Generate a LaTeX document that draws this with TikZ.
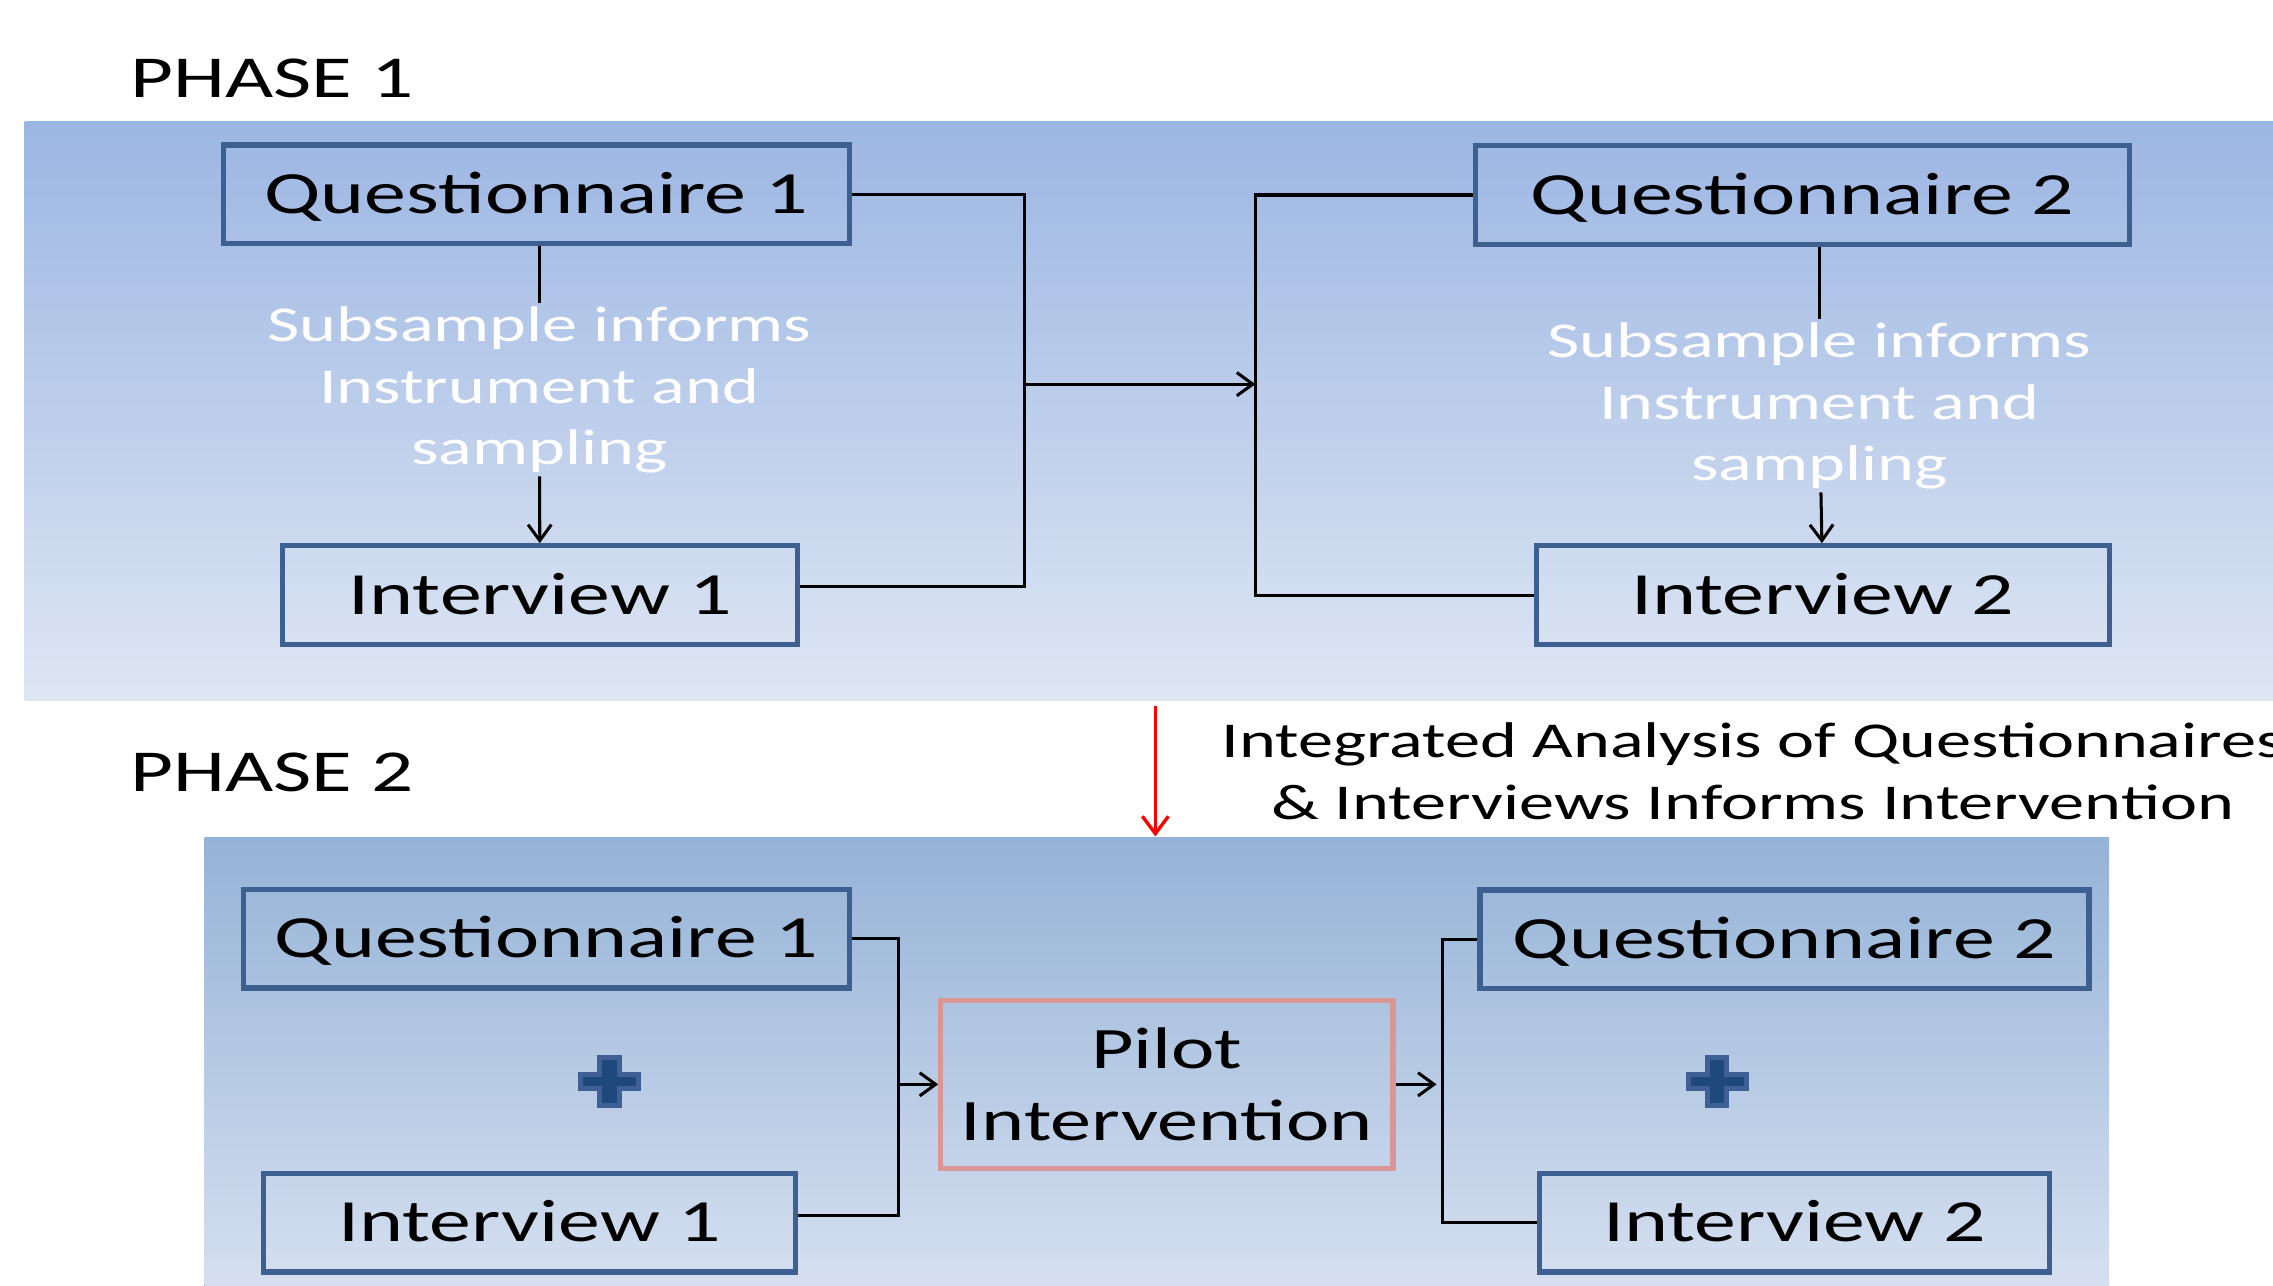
\documentclass[tikz,border=0pt]{standalone}
\usepackage{fontspec}
\setmainfont{Carlito}[FakeStretch=1.4]
\usepackage{xcolor}
\usepackage{tikz}
\usetikzlibrary{arrows.meta,positioning,calc}

\definecolor{boxline}{RGB}{62,96,145}
\definecolor{pilotline}{RGB}{217,150,148}
\definecolor{bandAtop}{RGB}{156,182,227}
\definecolor{bandAbot}{RGB}{222,230,243}
\definecolor{bandBtop}{RGB}{149,179,215}
\definecolor{bandBbot}{RGB}{216,225,241}
\definecolor{plusfill}{RGB}{31,73,125}
\definecolor{plusline}{RGB}{62,96,148}

\begin{document}
\begin{tikzpicture}[
  x=1pt, y=-1pt,
  every node/.style={font=\fontsize{41.3}{50}\selectfont},
  block/.style={rectangle, draw=boxline, line width=3.6pt, inner sep=0pt,
                minimum height=68pt, text height=26.5pt, text depth=0pt},
  pilot/.style={rectangle, draw=pilotline, line width=3.6pt, align=center,
                inner sep=0pt, minimum width=312pt, minimum height=116pt,
                font=\fontsize{40.5}{49}\selectfont},
  note/.style={align=center, text=white, inner sep=2pt,
               font=\fontsize{34.6}{42.5}\selectfont},
  title/.style={anchor=base west, inner sep=0pt,
                font=\fontsize{41}{48}\selectfont},
  link/.style={line width=2.1pt},
  arr/.style={link, -{Straight Barb[length=11pt,width=16pt]}},
  redarr/.style={line width=2.3pt, red, -{Straight Barb[length=12pt,width=18pt]}},
  plus/.style={fill=plusfill, draw=plusline, line width=3.5pt},
]
\useasboundingbox (0,0) rectangle (1568,887);

% backgrounds of the two phases
\fill[top color=bandAtop, bottom color=bandAbot] (17,84) rectangle (1568,483);
\fill[top color=bandBtop, bottom color=bandBbot] (141,578) rectangle (1455,900);

\node[title] (ph1) at (90,67)  {PHASE 1};
\node[title] (ph2) at (90,546) {PHASE 2};

% phase 1
\node[block, minimum width=432pt] (q1) at (370,134)     {Questionnaire 1};
\node[block, minimum width=355pt] (i1) at (372.5,410.5) {Interview 1};
\node[note] (n1) at (372,269) {Subsample informs\\Instrument and\\sampling};
\node[block, minimum width=451pt] (q2) at (1243.5,134.5) {Questionnaire 2};
\node[block, minimum width=395pt] (i2) at (1257.5,410.5) {Interview 2};
\node[note] (n2) at (1255,280) {Subsample informs\\Instrument and\\sampling};

\draw[link] (q1.south -| n1.north) -- (n1.north);
\draw[arr] (n1) -- (i1);
\draw[link] (q2.south -| n2.north) -- (n2.north);
\draw[arr] (n2) -- (i2);

\coordinate (join1)  at (707,265);
\coordinate (split1) at (866,265);
\draw[link] (q1.east) -| (join1);
\draw[link] ([yshift=6pt]i1.east) -| (join1);
\draw[arr] (join1) -- (split1);
\draw[link] (q2.west) -| (split1);
\draw[link] (i2.west) -| (split1);

% between the phases
\coordinate (redtop) at (797,487);
\coordinate (redbot) at (797,577);
\draw[redarr] (redtop) -- (redbot);
\node[note, text=black, inner sep=0pt] (intlabel) at (1209,532)
     {Integrated Analysis of Questionnaires\\\& Interviews Informs Intervention};

% phase 2
\node[block, minimum width=418pt] (q1b) at (377,647.5)  {Questionnaire 1};
\node[block, minimum width=367pt] (i1b) at (365.5,843.5) {Interview 1};
\node[pilot] (pi) at (805,748) {Pilot\\Intervention};
\node[block, minimum width=420pt] (q2b) at (1231,648)    {Questionnaire 2};
\node[block, minimum width=352pt] (i2b) at (1238,843.5)  {Interview 2};

\coordinate (join2)  at (620,748);
\coordinate (split2) at (995,748);
\draw[link] (q1b.east) -| (join2);
\draw[link] ([yshift=5pt]i1b.east) -| (join2);
\draw[arr] (join2) -- (pi);
\draw[arr, shorten >=4pt] (pi) -- (split2);
\draw[link] (q2b.west) -| (split2);
\draw[link] (i2b.west) -| (split2);

\foreach \px in {420.5,1184.5}
  \draw[plus, shift={(\px,746)}]
    (-6.75,-16.75) -- (6.75,-16.75) -- (6.75,-4.75) -- (20,-4.75)
    -- (20,4.75) -- (6.75,4.75) -- (6.75,16.75) -- (-6.75,16.75)
    -- (-6.75,4.75) -- (-20,4.75) -- (-20,-4.75) -- (-6.75,-4.75) -- cycle;
\end{tikzpicture}
\end{document}
